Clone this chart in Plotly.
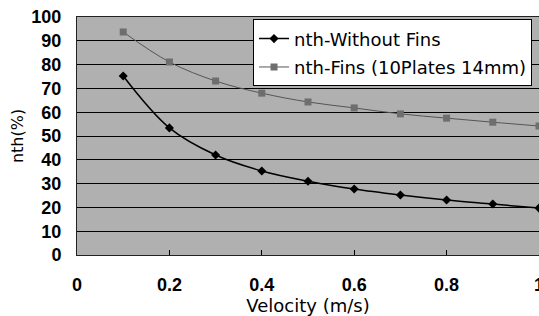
import plotly.graph_objects as go

velocity = [0.1, 0.2, 0.3, 0.4, 0.5, 0.6, 0.7, 0.8, 0.9, 1.0]
nth_without_fins = [75.2, 53.4, 42.0, 35.3, 31.0, 27.7, 25.2, 23.1, 21.4, 19.7]
nth_fins = [93.7, 81.1, 73.1, 68.0, 64.3, 61.8, 59.3, 57.5, 55.8, 54.2]
x_ticks = [0, 0.2, 0.4, 0.6, 0.8, 1]
x_tick_labels = ["0", "0.2", "0.4", "0.6", "0.8", "1"]
y_ticks = list(range(0, 101, 10))

fig = go.Figure()
fig.add_trace(go.Scatter(
    x=velocity, y=nth_without_fins, name="nth-Without Fins", legendgroup="a",
    mode="lines+markers", line=dict(color="black", width=1.5, shape="spline"),
    marker=dict(symbol="diamond", size=7, color="black"), cliponaxis=False))
fig.add_trace(go.Scatter(
    x=velocity, y=nth_fins, name="nth-Fins (10Plates 14mm)", legendgroup="b",
    mode="lines+markers", line=dict(color="#555555", width=1, shape="spline"),
    marker=dict(symbol="square", size=7, color="#6e6e6e"), cliponaxis=False))

tickfont = dict(family="Liberation Sans, Arial, sans-serif", size=18, color="black", weight="bold")
dv = "DejaVu Sans, sans-serif"
fig.update_layout(
    width=539, height=316,
    margin=dict(l=77, r=0, t=17, b=61, autoexpand=False),
    paper_bgcolor="white", plot_bgcolor="#b0b0b0",
    font=dict(family=dv, size=16, color="black"),
    legend=dict(x=0.381, y=0.99, xanchor="left", yanchor="top",
                bgcolor="white", bordercolor="black", borderwidth=1,
                font=dict(family=dv, size=18), tracegroupgap=2),
    xaxis=dict(range=[0, 1], tickvals=x_ticks, ticktext=x_tick_labels,
               showgrid=False, zeroline=False, ticks="inside", ticklen=5,
               tickcolor="black", showline=True, linecolor="#222222", mirror=True,
               tickfont=tickfont, ticklabelstandoff=13, automargin=False,
               ticklabeloverflow="allow",
               title=dict(text="Velocity (m/s)", standoff=6, font=dict(family=dv, size=18))),
    yaxis=dict(range=[0, 100], tickvals=y_ticks, showgrid=True, gridcolor="black",
               gridwidth=1, zeroline=False, showline=True, linecolor="#222222", mirror=True,
               ticks="", ticklabelstandoff=11, tickfont=tickfont, automargin=False,
               title=dict(text="nth(%)", standoff=3, font=dict(family=dv, size=16))),
    showlegend=True,
)
fig.write_html("out.html", config={"displayModeBar": False},
               post_script="document.body.style.margin='0';document.body.style.overflow='hidden';")
